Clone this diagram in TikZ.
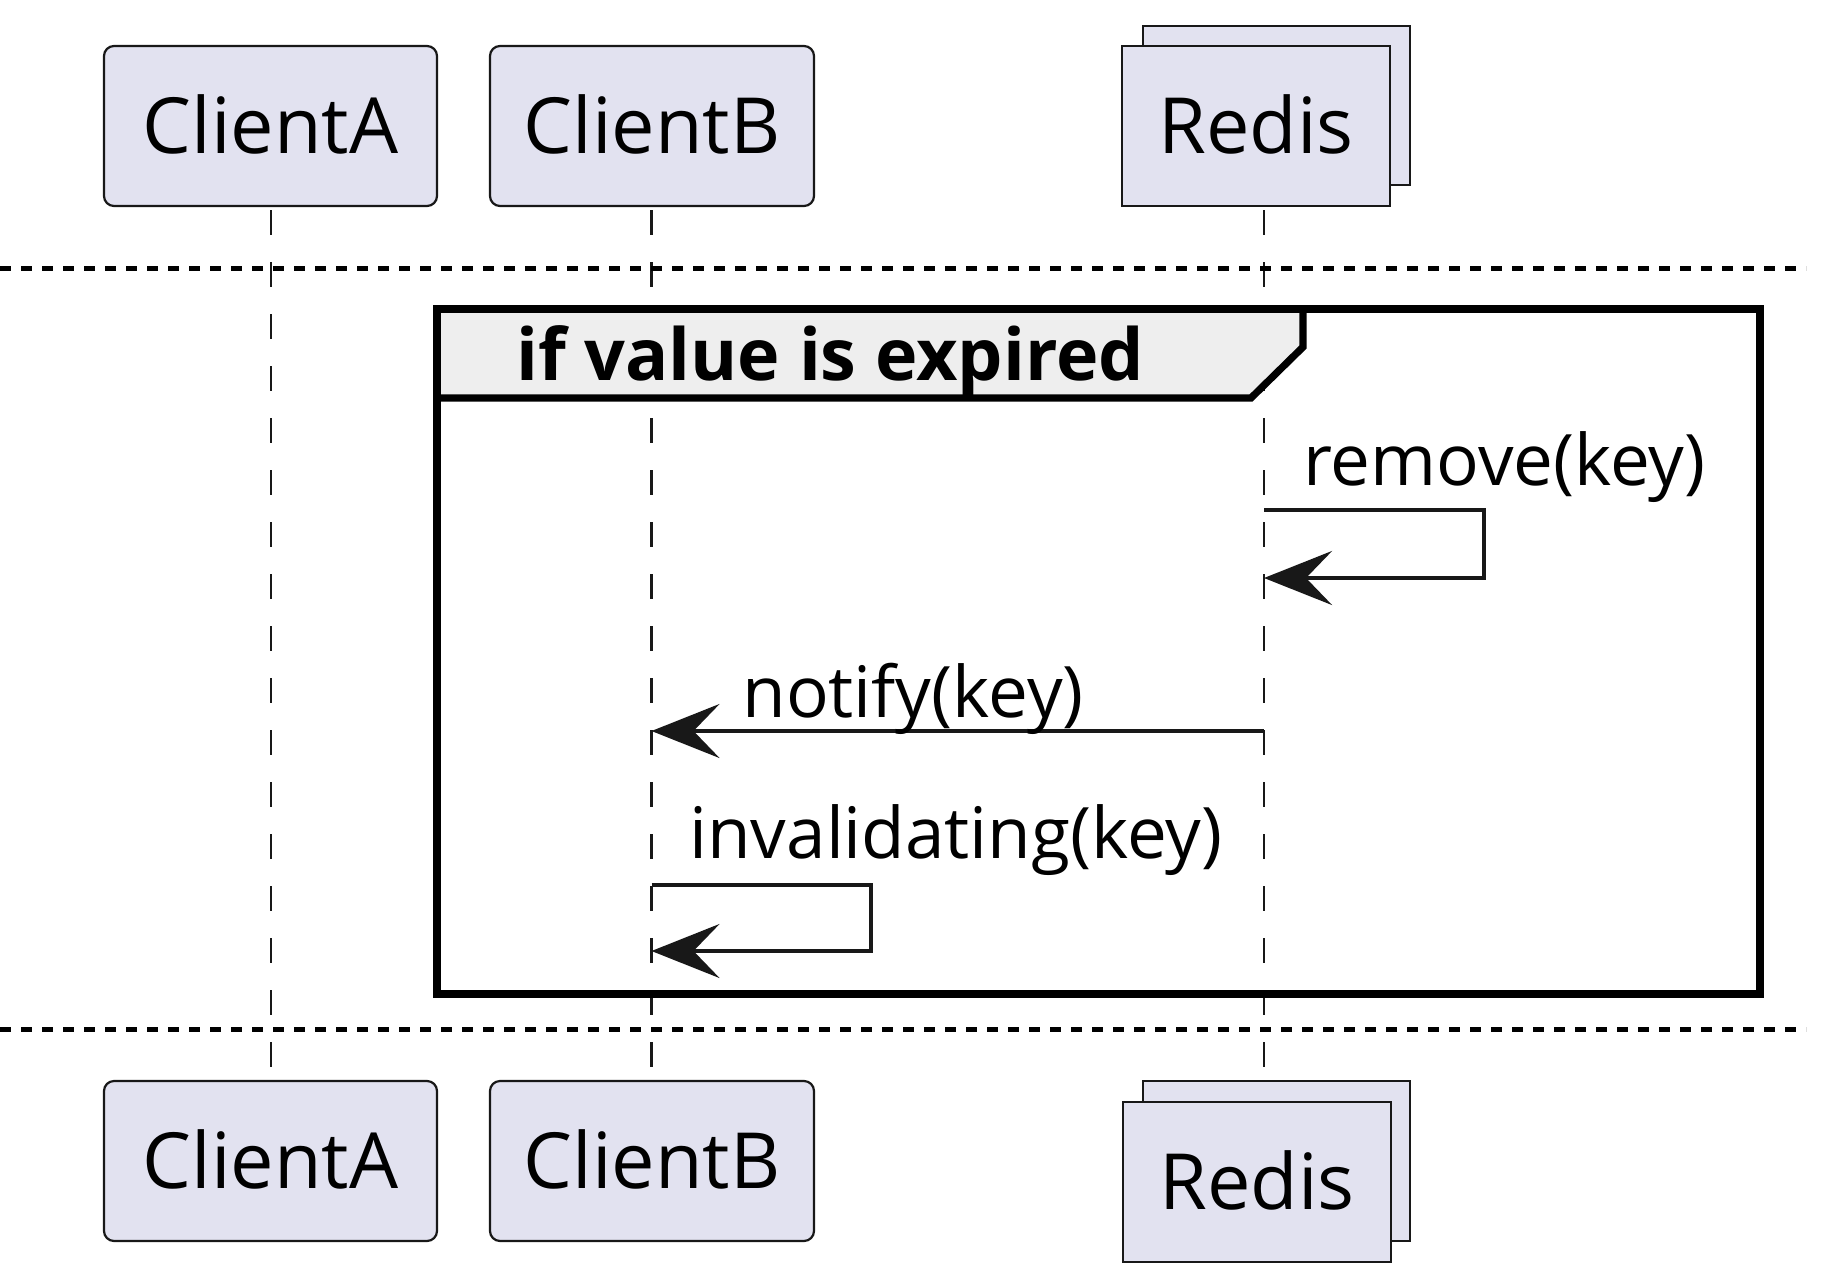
\documentclass[tikz,border=0pt]{standalone}
\usepackage{fontspec}
\setmainfont{Open Sans}
\usetikzlibrary{arrows.meta}
\definecolor{pfill}{HTML}{E2E2F0}
\definecolor{pline}{HTML}{181818}
\definecolor{tabfill}{HTML}{EEEEEE}
\begin{document}
\begin{tikzpicture}[x=0.5pt,y=-0.5pt,
  pbox/.style={draw=pline, fill=pfill, line width=1.1pt, inner sep=0pt,
    text height=27.7pt, text depth=0pt, font=\fontsize{38.75pt}{46pt}\selectfont},
  rbox/.style={pbox, rounded corners=5pt},
  life/.style={draw=pline, line width=1.2pt, dash pattern=on 12.5pt off 13.5pt},
  sepline/.style={draw=black, line width=2.5pt, dash pattern=on 5.5pt off 5pt},
  msg/.style={draw=pline, line width=2.15pt,
    -{Stealth[length=34pt,width=27pt,inset=13pt]}},
  msgtext/.style={anchor=base west, inner sep=0pt, font=\fontsize{35.5pt}{42pt}\selectfont},
  grp/.style={draw=black, line width=3.6pt},
  grplabel/.style={anchor=base west, inner sep=0pt, font=\bfseries\fontsize{35.9pt}{42pt}\selectfont},
]
\useasboundingbox (0,0) rectangle (1843,1287);

% lifeline end points
\coordinate (Atop) at (271,210);    \coordinate (Abot) at (271,1069);
\coordinate (Btop) at (651.5,210);  \coordinate (Bbot) at (651.5,1069);
\coordinate (Rtop) at (1264,210);   \coordinate (Rbot) at (1264,1069);
\draw[life] (Atop) -- (Abot);
\draw[life] (Btop) -- (Bbot);
\draw[life] (Rtop) -- (Rbot);

% participants (top)
\node[rbox, minimum width=166.5pt, minimum height=80pt] (A) at (270.5,126) {ClientA};
\node[rbox, minimum width=162pt, minimum height=80pt] (B) at (652,126) {ClientB};
\node[pbox, minimum width=133.5pt, minimum height=79.5pt] (Rback) at (1276.5,105.5) {};
\node[pbox, minimum width=134pt, minimum height=80pt] (R) at (1256,126) {Redis};

% participants (bottom)
\node[rbox, minimum width=166.5pt, minimum height=80pt] (A2) at (270.5,1161) {ClientA};
\node[rbox, minimum width=162pt, minimum height=80pt] (B2) at (652,1161) {ClientB};
\node[pbox, minimum width=133.5pt, minimum height=80pt] (R2back) at (1276.5,1161) {};
\node[pbox, minimum width=134pt, minimum height=80pt] (R2) at (1257,1182) {Redis};

% separators
\coordinate (s1a) at (0,268);  \coordinate (s1b) at (1806,268);
\coordinate (s2a) at (0,1029); \coordinate (s2b) at (1806,1029);
\draw[sepline] (s1a) -- (s1b);
\draw[sepline] (s2a) -- (s2b);

% group frame
\draw[grp, fill=tabfill] (437,309) -- (1303,309) -- (1303,347) -- (1251,398) -- (437,398) -- cycle;
\draw[grp] (437,309) rectangle (1760,994);
\node[grplabel] (gl) at (516,380) {if value is expired};

% remove(key)
\coordinate (r1) at (1264,510); \coordinate (r2) at (1484,510);
\coordinate (r3) at (1484,578); \coordinate (r4) at (1264,578);
\draw[msg] (r1) -- (r2) -- (r3) -- (r4);
\node[msgtext] (t1) at (1303,485) {remove(key)};

% notify(key)
\coordinate (n1) at (1264,731); \coordinate (n2) at (651.5,731);
\draw[msg] (n1) -- (n2);
\node[msgtext] (t2) at (742,717) {notify(key)};

% invalidating(key)
\coordinate (i1) at (651.5,885); \coordinate (i2) at (871,885);
\coordinate (i3) at (871,951);   \coordinate (i4) at (651.5,951);
\draw[msg] (i1) -- (i2) -- (i3) -- (i4);
\node[msgtext] (t3) at (689,858) {invalidating(key)};
\end{tikzpicture}
\end{document}
